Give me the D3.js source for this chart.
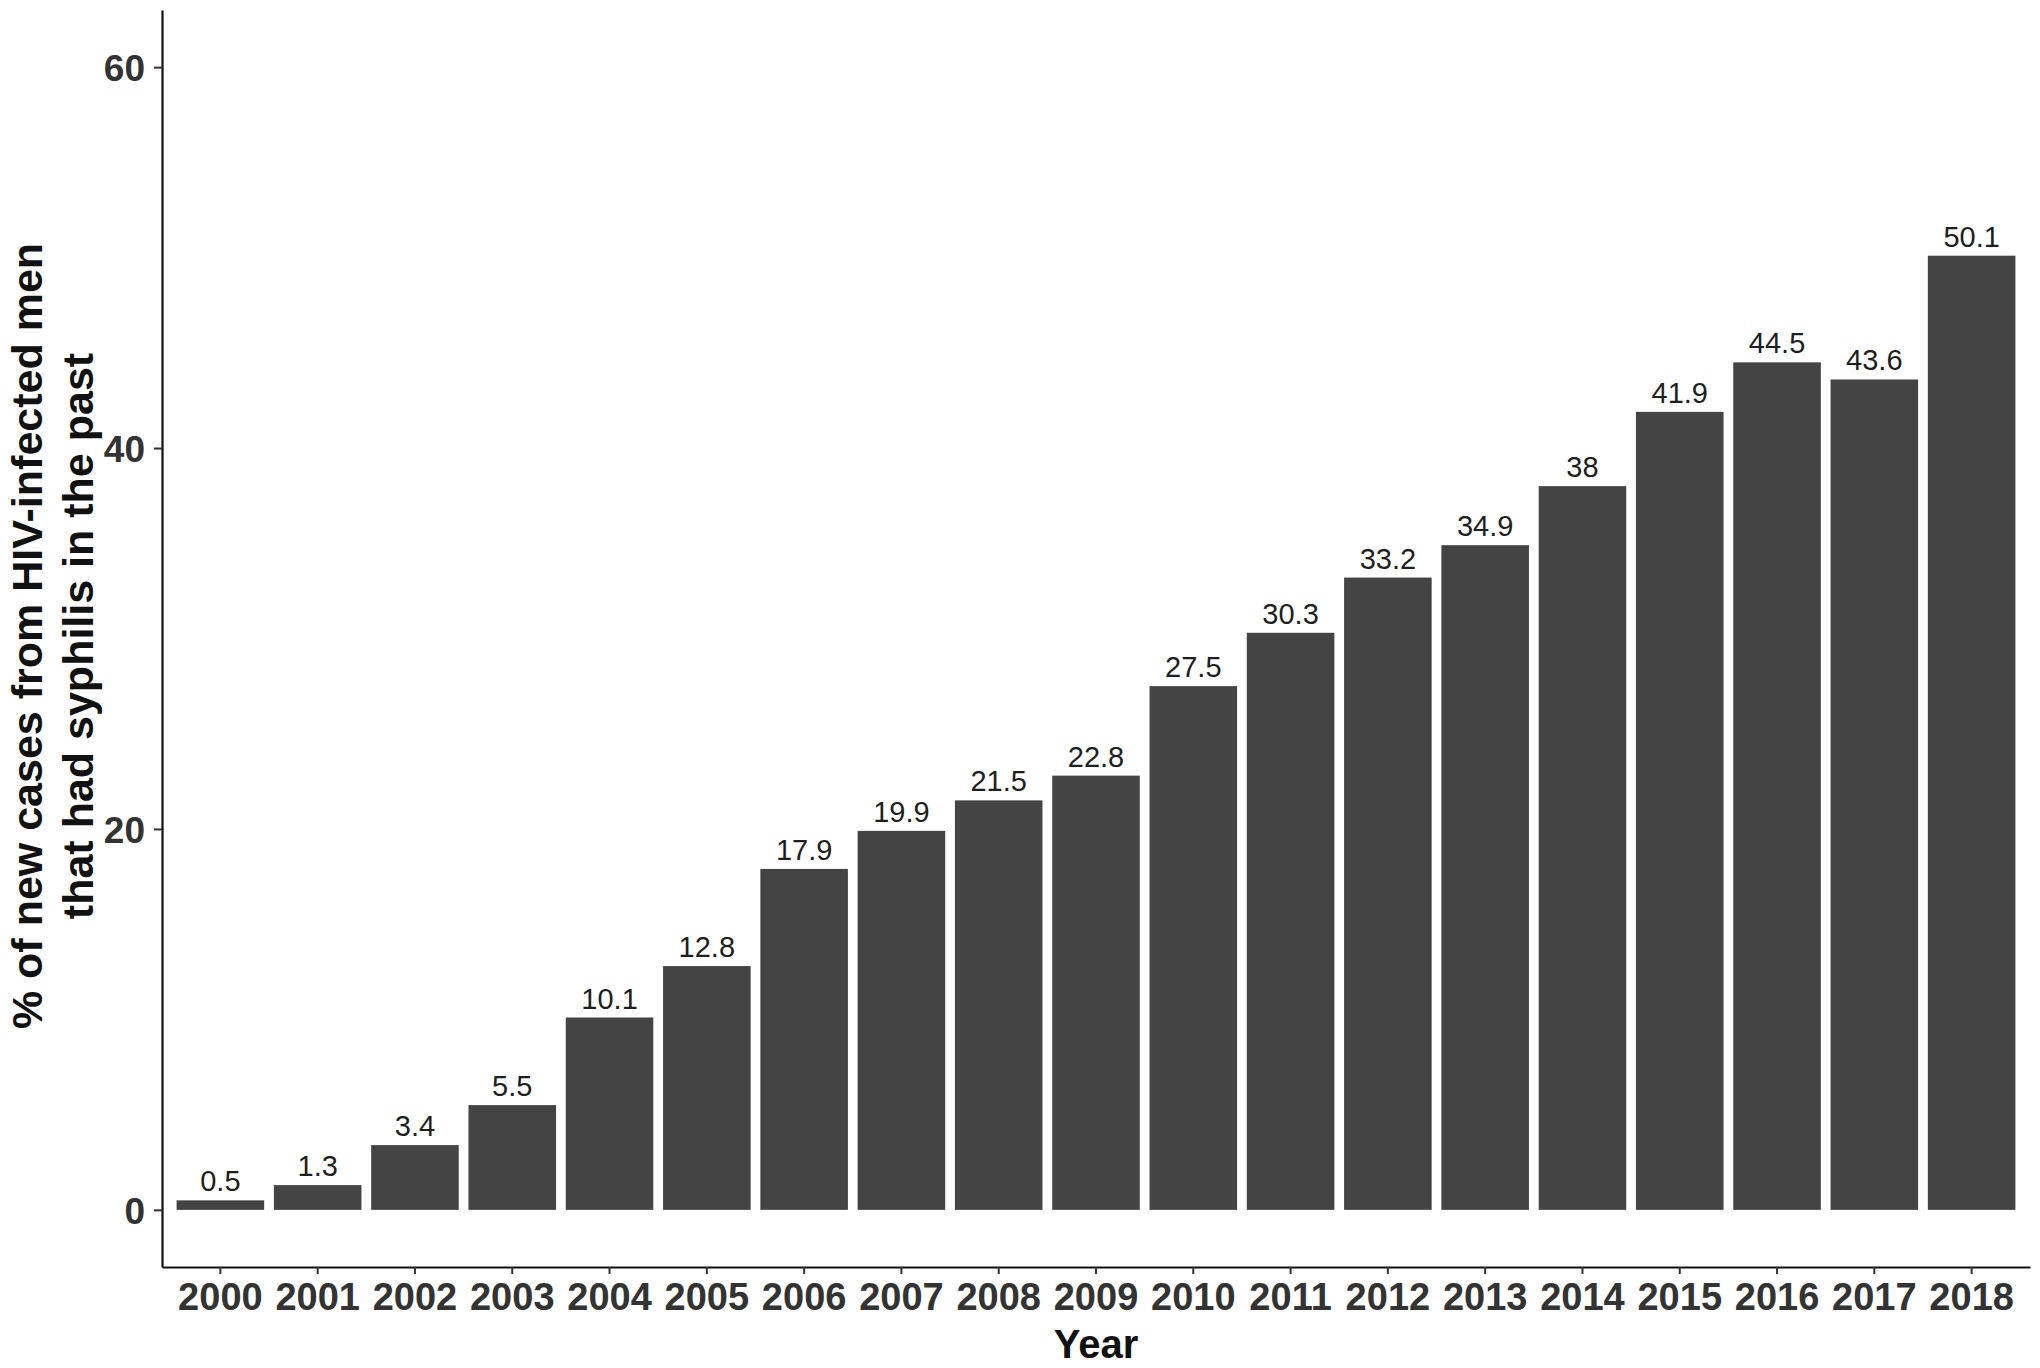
<!DOCTYPE html>
<html>
<head>
<meta charset="utf-8">
<script src="https://cdn.jsdelivr.net/npm/d3@7"></script>
<style>
    body { margin: 0; background: #fff; }
    svg { display: block; font-family: "Liberation Sans", Arial, sans-serif; }
</style>
</head>
<body>
<div id="chart"></div>
<script>
// Data
const years = ["2000", "2001", "2002", "2003", "2004", "2005", "2006", "2007", "2008", "2009",
               "2010", "2011", "2012", "2013", "2014", "2015", "2016", "2017", "2018"];
const percents = [0.5, 1.3, 3.4, 5.5, 10.1, 12.8, 17.9, 19.9, 21.5, 22.8,
                  27.5, 30.3, 33.2, 34.9, 38, 41.9, 44.5, 43.6, 50.1];
const yTicks = [0, 20, 40, 60];

const width = 2040;
const height = 1368;

const svg = d3.select("#chart")
    .append("svg")
    .attr("width", width)
    .attr("height", height);

// panel bounds (ggplot style, 5% expansion on y, 0.6 on x)
const panelLeft = 162, panelRight = 2030, panelTop = 10, panelBottom = 1267;

const x = d3.scaleBand()
    .domain(years)
    .range([panelLeft, panelRight])
    .paddingInner(0.1)
    .paddingOuter(0.15);

const y = d3.scaleLinear()
    .domain([-3, 63])
    .range([panelBottom, panelTop]);

// bars
svg.selectAll("rect.bar")
    .data(percents)
    .enter()
    .append("rect")
    .attr("class", "bar")
    .attr("x", (d, i) => x(years[i]))
    .attr("width", x.bandwidth())
    .attr("y", d => y(d))
    .attr("height", d => y(0) - y(d))
    .attr("fill", "#444444");

// value labels
svg.selectAll("text.val")
    .data(percents)
    .enter()
    .append("text")
    .attr("class", "val")
    .attr("x", (d, i) => x(years[i]) + x.bandwidth() / 2)
    .attr("y", d => y(d) - 9)
    .attr("text-anchor", "middle")
    .attr("font-size", "29px")
    .attr("fill", "#1e1e1e")
    .text(d => d);

// y axis
const yAxis = svg.append("g")
    .attr("transform", `translate(${panelLeft},0)`)
    .call(d3.axisLeft(y).tickValues(yTicks).tickSize(8).tickSizeOuter(0).tickPadding(9));

// x axis
const xAxis = svg.append("g")
    .attr("transform", `translate(0,${panelBottom})`)
    .call(d3.axisBottom(x).tickSize(7).tickSizeOuter(0).tickPadding(9));

[yAxis, xAxis].forEach(function(g) {
    g.select(".domain").attr("stroke", "#111").attr("stroke-width", 2.2);
    g.selectAll(".tick line").attr("stroke", "#333").attr("stroke-width", 2);
    g.selectAll(".tick text")
        .attr("fill", "#333")
        .attr("font-weight", "bold")
        .attr("font-family", "Liberation Sans, Arial, sans-serif");
});
yAxis.selectAll(".tick text").attr("font-size", "37px").attr("dy", "0.36em");
xAxis.selectAll(".tick text").attr("font-size", "38px");

// axis titles
svg.append("text")
    .attr("x", (panelLeft + panelRight) / 2)
    .attr("y", 1358)
    .attr("text-anchor", "middle")
    .attr("font-size", "40px")
    .attr("font-weight", "bold")
    .attr("fill", "#111")
    .text("Year");

const yTitle = svg.append("text")
    .attr("transform", "rotate(-90)")
    .attr("text-anchor", "middle")
    .attr("font-size", "43px")
    .attr("font-weight", "bold")
    .attr("fill", "#111");

yTitle.append("tspan")
    .attr("x", -636)
    .attr("y", 42)
    .text("% of new cases from HIV-infected men");

yTitle.append("tspan")
    .attr("x", -636)
    .attr("y", 93)
    .text("that had syphilis in the past");
</script>
</body>
</html>
